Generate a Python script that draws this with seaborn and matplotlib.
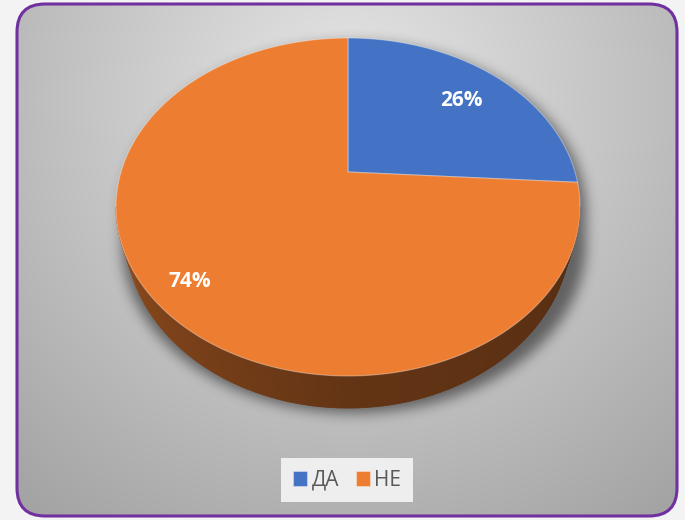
import numpy as np
import matplotlib
matplotlib.use("Agg")
import matplotlib.pyplot as plt
import seaborn as sns
from matplotlib import transforms as mtransforms
from matplotlib.path import Path
from matplotlib.patches import FancyBboxPatch
from matplotlib.collections import PolyCollection

# ---- data -------------------------------------------------------------
categories = ["ДА", "НЕ"]
shares = [26, 74]
slice_colors = ["#4472C4", "#ED7D31"]

# ---- canvas -----------------------------------------------------------
W, H = 685, 520
sns.set_theme(style="white")
plt.rcParams["font.family"] = ["Open Sans", "DejaVu Sans"]
palette = sns.color_palette(slice_colors)


class TiltedDisc(mtransforms.Transform):
    """Perspective view of the unit disc lying on a tilted plane."""
    input_dims = 2
    output_dims = 2
    is_separable = False
    has_inverse = False

    def __init__(self, cx, half_w, a, b, c):
        super().__init__()
        self.cx, self.half_w, self.a, self.b, self.c = cx, half_w, a, b, c

    def transform_non_affine(self, values):
        vals = np.asarray(values, dtype=float).reshape(-1, 2)
        u, v = vals[:, 0], vals[:, 1]
        den = self.c * v + 1.0
        return np.column_stack([self.cx + self.half_w * u / den,
                                (self.a * v + self.b) / den])

    def transform_path_non_affine(self, path):
        verts, codes = [], []
        for seg, code in path.iter_bezier(simplify=False):
            if code == Path.MOVETO:
                pts = np.atleast_2d(seg.control_points)[-1:]
                verts.append(pts)
                codes.append(Path.MOVETO)
            else:
                n = 2 if code in (Path.LINETO, Path.CLOSEPOLY) else 48
                pts = seg(np.linspace(0, 1, n)[1:])
                verts.append(pts)
                codes.extend([Path.LINETO] * len(pts))
        verts = np.concatenate(verts)
        return Path(self.transform_non_affine(verts), codes)

    def inverse_xy(self, X, Y):
        v = (self.b - Y) / (Y * self.c - self.a)
        u = (X - self.cx) * (self.c * v + 1.0) / self.half_w
        return u, v


disc = TiltedDisc(cx=348.0, half_w=227.0, a=-126.13, b=172.0, c=0.2071)
DEPTH = 25.4       # wall height before perspective scaling
BASE_SCALE = 0.958  # the lower rim sits a little further from the eye

fig = plt.figure(figsize=(W / 100, H / 100), dpi=100, facecolor="#f3f3f3")
ax = fig.add_axes([0, 0, 1, 1])
ax.set_facecolor("none")

# ---- pie top face -----------------------------------------------------
wedges, _ = ax.pie(
    shares, colors=palette, startangle=90, counterclock=False,
    labeldistance=None,
    wedgeprops=dict(transform=disc + ax.transData,
                    edgecolor=(1, 1, 1, 0.35), linewidth=0.8, zorder=4),
)

# ---- rounded chart frame and gradient background ----------------------
frame = FancyBboxPatch((17, 4), 660, 512,
                       boxstyle="round,pad=0,rounding_size=28",
                       facecolor="none", edgecolor="#7030A0",
                       linewidth=2.2, zorder=10, transform=ax.transData)
ax.add_patch(frame)

yy, xx = np.mgrid[0:H, 0:W] + 0.5
dist = np.hypot(xx - 350, yy - 100)
gray = np.clip(0.905 - (0.905 - 0.65) * dist / 500, 0.64, 0.91)
bg = ax.imshow(np.dstack([gray, gray, gray]), extent=(0, W, H, 0),
               interpolation="bilinear", zorder=0)
bg.set_clip_path(frame)

# ---- soft drop shadow under the disc ----------------------------------
mask = np.zeros((H, W))
for s in np.linspace(0, 32, 12):
    u, v = disc.inverse_xy(xx - 6, yy - 5 - s)
    mask = np.maximum(mask, ((u ** 2 + v ** 2) <= 1).astype(float))


def gauss_blur(img, sigma):
    r = int(3 * sigma)
    k = np.exp(-0.5 * (np.arange(-r, r + 1) / sigma) ** 2)
    k /= k.sum()
    img = np.apply_along_axis(lambda row: np.convolve(row, k, mode="same"), 1, img)
    img = np.apply_along_axis(lambda col: np.convolve(col, k, mode="same"), 0, img)
    return img


shade = gauss_blur(mask, 6.5)
shadow_rgba = np.zeros((H, W, 4))
shadow_rgba[..., 3] = 0.5 * shade
sh = ax.imshow(shadow_rgba, extent=(0, W, H, 0), interpolation="bilinear", zorder=1)
sh.set_clip_path(frame)

# ---- side wall of each slice (front half of the rim) -------------------
phi_right = np.degrees(np.arcsin(-disc.c))          # about -12 deg
phi_left = -180.0 - phi_right                        # about -168 deg
for w, col in zip(wedges, palette):
    for k in (-1, 0, 1):
        lo = max(w.theta1 + 360 * k, phi_left)
        hi = min(w.theta2 + 360 * k, phi_right)
        if hi <= lo:
            continue
        phis = np.linspace(lo, hi, 160)
        rad = np.radians(phis)
        top = disc.transform(np.column_stack([np.cos(rad), np.sin(rad)]))
        depth = DEPTH / (disc.c * np.sin(rad) + 1.0)
        bot = np.column_stack([disc.cx + BASE_SCALE * (top[:, 0] - disc.cx),
                               top[:, 1] + depth])
        t = (phis - phi_left) / (phi_right - phi_left)
        fac = np.interp(t, [0.0, 0.15, 0.5, 1.0], [0.74, 0.56, 0.42, 0.36])
        quads, fcs = [], []
        for i in range(len(phis) - 1):
            quads.append([top[i], top[i + 1], bot[i + 1], bot[i]])
            f = 0.5 * (fac[i] + fac[i + 1])
            fcs.append(tuple(np.array(col) * f))
        pc = PolyCollection(quads, facecolors=fcs, edgecolors=fcs,
                            linewidths=0.6, zorder=3, transform=ax.transData)
        ax.add_collection(pc)

# ---- percentage labels --------------------------------------------------
label_radius = [0.76, 0.84]
for w, val, r in zip(wedges, shares, label_radius):
    mid = np.radians(0.5 * (w.theta1 + w.theta2))
    x, y = disc.transform([r * np.cos(mid), r * np.sin(mid)])
    ax.text(x, y + 4, f"{val}%", ha="center", va="center", color="white",
            fontsize=15, fontweight="bold", zorder=6)

# ---- legend -------------------------------------------------------------
leg = ax.legend(wedges, categories, loc="center",
                bbox_to_anchor=(347 / W, 1 - 480 / H),
                bbox_transform=fig.transFigure, ncol=2, frameon=True,
                fancybox=False, framealpha=1, facecolor="#eeeeee",
                edgecolor="none", fontsize=15, handlelength=0.7,
                handleheight=0.7, handletextpad=0.2, columnspacing=0.8,
                borderpad=0.55, labelcolor="#595959")
leg.set_zorder(12)

ax.set_xlim(0, W)
ax.set_ylim(H, 0)
ax.set_aspect("auto")
ax.axis("off")

fig.savefig("out.png", dpi=100, facecolor=fig.get_facecolor())
